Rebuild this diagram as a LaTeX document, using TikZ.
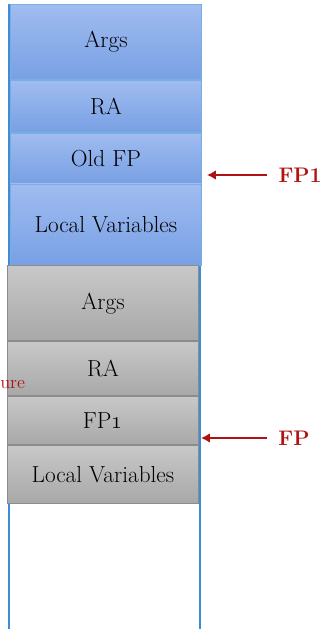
\documentclass[tikz,border=0pt]{standalone}
\usepackage{tikz}
\usetikzlibrary{positioning,arrows.meta}

\definecolor{frameblue}{RGB}{62,140,214}
\definecolor{blutop}{RGB}{160,188,240}
\definecolor{blubot}{RGB}{120,160,228}
\definecolor{greytop}{RGB}{200,200,200}
\definecolor{greybot}{RGB}{168,168,168}
\definecolor{ptrred}{RGB}{176,18,18}

\tikzset{
  blubox/.style={rectangle, draw=frameblue!70, line width=0.6pt, top color=blutop, bottom color=blubot,
    minimum width=4.775cm, inner sep=0pt, font=\fontsize{16.5}{19}\selectfont},
  greybox/.style={rectangle, draw=black!45, line width=0.6pt, top color=greytop, bottom color=greybot,
    minimum width=4.775cm, inner sep=0pt, font=\fontsize{16.5}{19}\selectfont},
  ptrlabel/.style={text=ptrred, font=\bfseries\fontsize{15}{18}\selectfont, inner sep=1pt},
  ptr/.style={ptrred, line width=1.6pt, -{Latex[length=2.2mm,width=2.4mm]}}
}

\begin{document}
\begin{tikzpicture}[x=0.025cm,y=-0.025cm]
    \useasboundingbox (0,0) rectangle (320,629);
    \clip (0,0) rectangle (320,629);

    % stack frame
    \draw[frameblue, line width=1pt] (9,4) -- (9,629);
    \draw[frameblue, line width=1pt] (200,4) -- (200,629);

    % caller
    \node[blubox, minimum height=1.875cm, anchor=north west] (args1) at (10,4) {Args};
    \node[blubox, minimum height=1.3cm, below=0pt of args1] (ra1) {RA};
    \node[blubox, minimum height=1.25cm, below=0pt of ra1] (oldfp) {Old FP};
    \node[blubox, minimum height=2.025cm, below=0pt of oldfp] (locals1) {Local Variables};

    % callee
    \node[greybox, minimum height=1.875cm, below=0pt of locals1, xshift=-0.075cm] (args2) {Args};
    \node[greybox, minimum height=1.35cm, below=0pt of args2] (ra2) {RA};
    \node[greybox, minimum height=1.2cm, below=0pt of ra2] (fp1) {FP\oldstylenums{1}};
    \node[greybox, minimum height=1.45cm, below=0pt of fp1] (locals2) {Local Variables};

    \node[text=ptrred, font=\fontsize{13}{15}\selectfont, anchor=base west, inner sep=0pt] (cut) at (0,388) {ure};

    % pointers
    \coordinate (tip1) at (207,175);
    \coordinate (tip2) at (201,438);
    \node[ptrlabel] (fp1lbl) at (300,175) {FP1};
    \node[ptrlabel] (fplbl) at (294,438) {FP};
    \draw[ptr] (fp1lbl.west) ++(-10,0) -- (tip1);
    \draw[ptr] (fplbl.west) ++(-10,0) -- (tip2);
\end{tikzpicture}
\end{document}
